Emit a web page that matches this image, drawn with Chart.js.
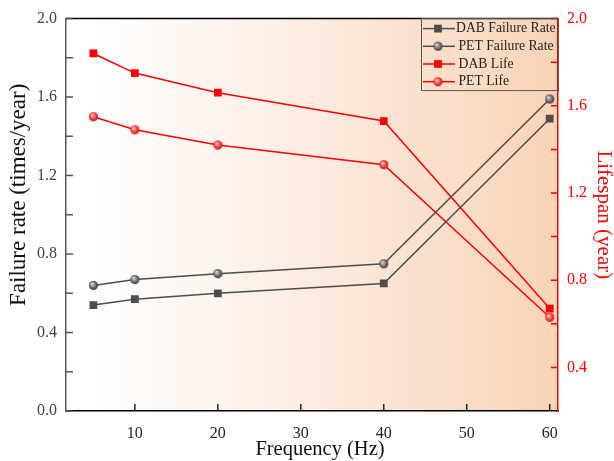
<!DOCTYPE html>
<html>
<head>
<meta charset="utf-8">
<script src="https://cdn.jsdelivr.net/npm/chart.js@4.4.0/dist/chart.umd.min.js"></script>
<style>
html, body { margin: 0; padding: 0; background: #fff; }
#wrap { width: 614px; height: 461px; position: relative; }
</style>
</head>
<body>
<div id="wrap"><canvas id="chart"></canvas></div>
<script>
const frequencies = [5, 10, 20, 40, 60];
const dabFailureRate = [0.54, 0.57, 0.60, 0.65, 1.49];
const petFailureRate = [0.64, 0.67, 0.70, 0.75, 1.59];
const dabLife = [1.84, 1.75, 1.66, 1.53, 0.67];
const petLife = [1.55, 1.49, 1.42, 1.33, 0.63];

const xTicks = [10, 20, 30, 40, 50, 60];
const leftTicks = [0, 0.4, 0.8, 1.2, 1.6, 2.0];
const leftMinor = [0.2, 0.6, 1.0, 1.4, 1.8];
const rightTicks = [0.4, 0.8, 1.2, 1.6, 2.0];
const rightMinor = [0.6, 1.0, 1.4, 1.8];

const leftTitle = 'Failure rate (times/year)';
const xTitle = 'Frequency (Hz)';

const FONT = 'Liberation Serif';
const GRAY = '#4d4d4d';
const RED = '#ff0000';

// little shaded ball used as marker
function sphere(base, light, r) {
    const s = r * 2 + 2;
    const c = document.createElement('canvas');
    c.width = s; c.height = s;
    const g = c.getContext('2d');
    const grad = g.createRadialGradient(s / 2 - r * 0.35, s / 2 - r * 0.4, r * 0.1, s / 2, s / 2, r);
    grad.addColorStop(0, light);
    grad.addColorStop(1, base);
    g.fillStyle = grad;
    g.beginPath();
    g.arc(s / 2, s / 2, r, 0, Math.PI * 2);
    g.fill();
    return c;
}
const graySphere = sphere('#333333', '#d8d8d8', 4.5);
const redSphere = sphere('#e00000', '#ffc0c0', 4.5);

const pts = ys => frequencies.map((f, i) => ({ x: f, y: ys[i] }));

// peach gradient behind the plot
const bgPlugin = {
    id: 'bg',
    beforeDraw(chart) {
        const { ctx, chartArea: a } = chart;
        const grad = ctx.createLinearGradient(a.left, 0, a.right, 0);
        grad.addColorStop(0, '#ffffff');
        grad.addColorStop(0.06, '#ffffff');
        grad.addColorStop(0.5, '#fcece1');
        grad.addColorStop(1, '#f9d3b6');
        ctx.save();
        ctx.fillStyle = grad;
        ctx.fillRect(a.left, a.top, a.right - a.left, a.bottom - a.top);
        ctx.restore();
    }
};

// inward ticks, top frame line, axis titles placed like the original
const ticksPlugin = {
    id: 'inTicks',
    afterDraw(chart) {
        const { ctx, chartArea: a, scales } = chart;
        ctx.save();
        ctx.lineWidth = 1.5;
        ctx.strokeStyle = '#000';
        ctx.beginPath();
        ctx.moveTo(a.left, a.top);
        ctx.lineTo(a.right, a.top);
        ctx.stroke();

        ctx.strokeStyle = '#222';
        ctx.beginPath();
        xTicks.forEach(v => {
            const x = scales.x.getPixelForValue(v);
            ctx.moveTo(x, a.bottom);
            ctx.lineTo(x, a.bottom - 7);
        });
        ctx.stroke();

        ctx.strokeStyle = '#555';
        ctx.beginPath();
        leftTicks.concat(leftMinor).forEach(v => {
            const y = scales.y.getPixelForValue(v);
            ctx.moveTo(a.left, y);
            ctx.lineTo(a.left + 7, y);
        });
        ctx.stroke();

        ctx.strokeStyle = RED;
        ctx.beginPath();
        rightTicks.concat(rightMinor).forEach(v => {
            const y = scales.y1.getPixelForValue(v);
            ctx.moveTo(a.right, y);
            ctx.lineTo(a.right - 7, y);
        });
        ctx.stroke();

        ctx.fillStyle = '#111';
        ctx.textAlign = 'center';
        ctx.textBaseline = 'middle';
        ctx.font = '20.5px "' + FONT + '"';
        ctx.fillText(xTitle, (a.left + a.right) / 2 + 8, a.bottom + 39);

        // left title sits a bit above the middle in the original
        ctx.translate(a.left - 47.5, (a.top + a.bottom) / 2 - 20);
        ctx.rotate(-Math.PI / 2);
        ctx.font = '23px "' + FONT + '"';
        ctx.fillText(leftTitle, 0, 0);
        ctx.restore();
    }
};

// legend box in the top right corner
const legendPlugin = {
    id: 'boxLegend',
    afterDraw(chart) {
        const { ctx, chartArea: a } = chart;
        const w = 137, h = 72;
        const x0 = a.right - w, y0 = a.top;
        ctx.save();
        ctx.lineWidth = 1;
        ctx.strokeStyle = '#555';
        ctx.strokeRect(x0 + 0.5, y0, w, h);
        chart.data.datasets.forEach((ds, i) => {
            const y = y0 + 10 + i * 17.7;
            ctx.strokeStyle = ds.borderColor;
            ctx.lineWidth = 1.5;
            ctx.beginPath();
            ctx.moveTo(x0 + 2, y);
            ctx.lineTo(x0 + 34, y);
            ctx.stroke();
            ctx.fillStyle = ds.pointBackgroundColor;
            Chart.helpers.drawPoint(ctx, {
                pointStyle: ds.pointStyle, radius: ds.pointRadius, rotation: 0, borderWidth: 0
            }, x0 + 17, y);
            ctx.fillStyle = '#222';
            ctx.font = '13.7px "' + FONT + '"';
            ctx.textBaseline = 'middle';
            ctx.textAlign = 'left';
            ctx.fillText(ds.label, x0 + (i === 0 ? 35 : 37.5), y);
        });
        ctx.restore();
    }
};

const ctx = document.getElementById('chart').getContext('2d');
new Chart(ctx, {
    type: 'line',
    data: {
        datasets: [{
            label: 'DAB Failure Rate',
            data: pts(dabFailureRate),
            yAxisID: 'y',
            borderColor: GRAY,
            pointBackgroundColor: GRAY,
            pointStyle: 'rect',
            pointRadius: 5.5,
            pointBorderWidth: 0,
            borderWidth: 1.5
        }, {
            label: 'PET Failure Rate',
            data: pts(petFailureRate),
            yAxisID: 'y',
            borderColor: GRAY,
            pointBackgroundColor: GRAY,
            pointStyle: graySphere,
            pointRadius: 4.5,
            pointBorderWidth: 0,
            borderWidth: 1.5
        }, {
            label: 'DAB Life',
            data: pts(dabLife),
            yAxisID: 'y1',
            borderColor: RED,
            pointBackgroundColor: RED,
            pointStyle: 'rect',
            pointRadius: 5.5,
            pointBorderWidth: 0,
            borderWidth: 1.5
        }, {
            label: 'PET Life',
            data: pts(petLife),
            yAxisID: 'y1',
            borderColor: RED,
            pointBackgroundColor: RED,
            pointStyle: redSphere,
            pointRadius: 4.5,
            pointBorderWidth: 0,
            borderWidth: 1.5
        }]
    },
    options: {
        responsive: true,
        maintainAspectRatio: false,
        animation: false,
        events: [],
        layout: { padding: { top: 14, left: 0, right: 0, bottom: 0 } },
        plugins: {
            legend: { display: false },
            tooltip: { enabled: false }
        },
        scales: {
            x: {
                type: 'linear',
                min: 1.7,
                max: 61,
                afterBuildTicks: s => { s.ticks = xTicks.map(v => ({ value: v })); },
                afterFit: s => { s.height = 50; },
                grid: { display: false, drawTicks: false },
                border: { color: '#000', width: 1.5 },
                ticks: { color: '#222', padding: 13, font: { family: FONT, size: 16 }, callback: v => v },
                title: { display: false }
            },
            y: {
                position: 'left',
                min: 0,
                max: 2,
                afterBuildTicks: s => { s.ticks = leftTicks.map(v => ({ value: v })); },
                afterFit: s => { s.width = 66; },
                grid: { display: false, drawTicks: false },
                border: { color: '#555', width: 1.5 },
                ticks: { color: '#444', padding: 9, font: { family: FONT, size: 16 }, callback: v => v.toFixed(1) },
                title: { display: false }
            },
            y1: {
                position: 'right',
                min: 0.2,
                max: 2,
                afterBuildTicks: s => { s.ticks = rightTicks.map(v => ({ value: v })); },
                afterFit: s => { s.width = 56; },
                grid: { display: false, drawTicks: false },
                border: { color: RED, width: 1.5 },
                ticks: { color: RED, padding: 9, font: { family: FONT, size: 16 }, callback: v => v.toFixed(1) },
                title: {
                    display: true, text: 'Lifespan (year)', color: RED,
                    font: { family: FONT, size: 21, lineHeight: 1 }, padding: { top: 0, bottom: 0 }
                }
            }
        }
    },
    plugins: [bgPlugin, ticksPlugin, legendPlugin]
});
</script>
</body>
</html>
